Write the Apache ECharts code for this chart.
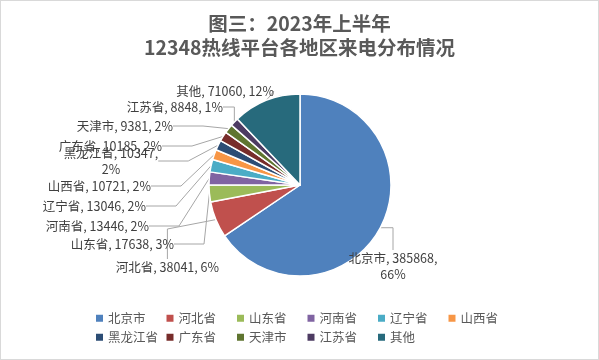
<!DOCTYPE html>
<html>
<head>
<meta charset="utf-8">
<script src="https://cdn.jsdelivr.net/npm/echarts@6/dist/echarts.min.js"></script>
<style>
html,body{margin:0;padding:0;background:#fff;}
#c{width:597px;height:358px;border:1px solid #d9d9d9;}
</style>
</head>
<body>
<div id="c"></div>
<script>
const categories = ['北京市','河北省','山东省','河南省','辽宁省','山西省','黑龙江省','广东省','天津市','江苏省','其他'];
const values = [385868, 38041, 17638, 13446, 13046, 10721, 10347, 10185, 9381, 8848, 71060];
const percents = ['66%','6%','3%','2%','2%','2%','2%','2%','2%','1%','12%'];
const titleLines = ['图三：2023年上半年', '12348热线平台各地区来电分布情况'];

const colors = ['#4F81BD','#C0504D','#9BBB59','#8064A2','#4BACC6','#F79646','#2C4D75','#772C2A','#5F7530','#4D3B62','#276A7C'];
// label placement (x, y, align) per slice index
const labelPos = [
  [392, 265, 'center'],
  [218, 266, 'right'],
  [173, 243, 'right'],
  [148, 225, 'right'],
  [145, 205, 'right'],
  [150, 185, 'right'],
  [110, 160, 'center'],
  [161, 145, 'right'],
  [172, 125, 'right'],
  [222, 106, 'right'],
  [273, 90, 'right']
];
const FONT = '"Noto Sans CJK SC", "Noto Sans", sans-serif';
const chart = echarts.init(document.getElementById('c'), null, {renderer:'canvas'});
chart.setOption({
  animation: false,
  color: colors,
  title: {
    text: titleLines.join('\n'),
    left: 'center',
    top: 6,
    textStyle: {fontFamily: FONT, fontSize: 19.5, fontWeight: 'bold', color: '#595959', lineHeight: 24}
  },
  legend: {
    data: categories,
    left: 90,
    top: 306,
    width: 420,
    itemWidth: 7,
    itemHeight: 7,
    itemGap: 6.5,
    icon: 'rect',
    formatter: n => '{t|' + n + '}',
    textStyle: {
      fontFamily: FONT, fontSize: 12.5, color: '#595959',
      rich: {t: {width: 52, fontFamily: FONT, fontSize: 12.5, color: '#595959', lineHeight: 13}}
    },
    itemStyle: {borderWidth: 0}
  },
  series: [{
    type: 'pie',
    center: [299, 184],
    radius: [0, 91],
    startAngle: 90,
    clockwise: true,
    itemStyle: {borderColor: '#fff', borderWidth: 1.5},
    data: categories.map((n, i) => ({name: n, value: values[i]})),
    label: {
      show: true,
      fontFamily: FONT,
      fontSize: 12.5,
      color: '#404040',
      lineHeight: 16,
      formatter: p => {
        const i = p.dataIndex;
        if (i === 0 || i === 6) return p.name + ', ' + values[i] + ',\n' + percents[i];
        return p.name + ', ' + values[i] + ', ' + percents[i];
      }
    },
    labelLine: {show: true, lineStyle: {color: '#A6A6A6', width: 1}},
    labelLayout: params => {
      const p = labelPos[params.dataIndex];
      return {x: p[0], y: p[1], align: p[2], verticalAlign: 'middle'};
    },
    emphasis: {disabled: true}
  }]
});
</script>
</body>
</html>
